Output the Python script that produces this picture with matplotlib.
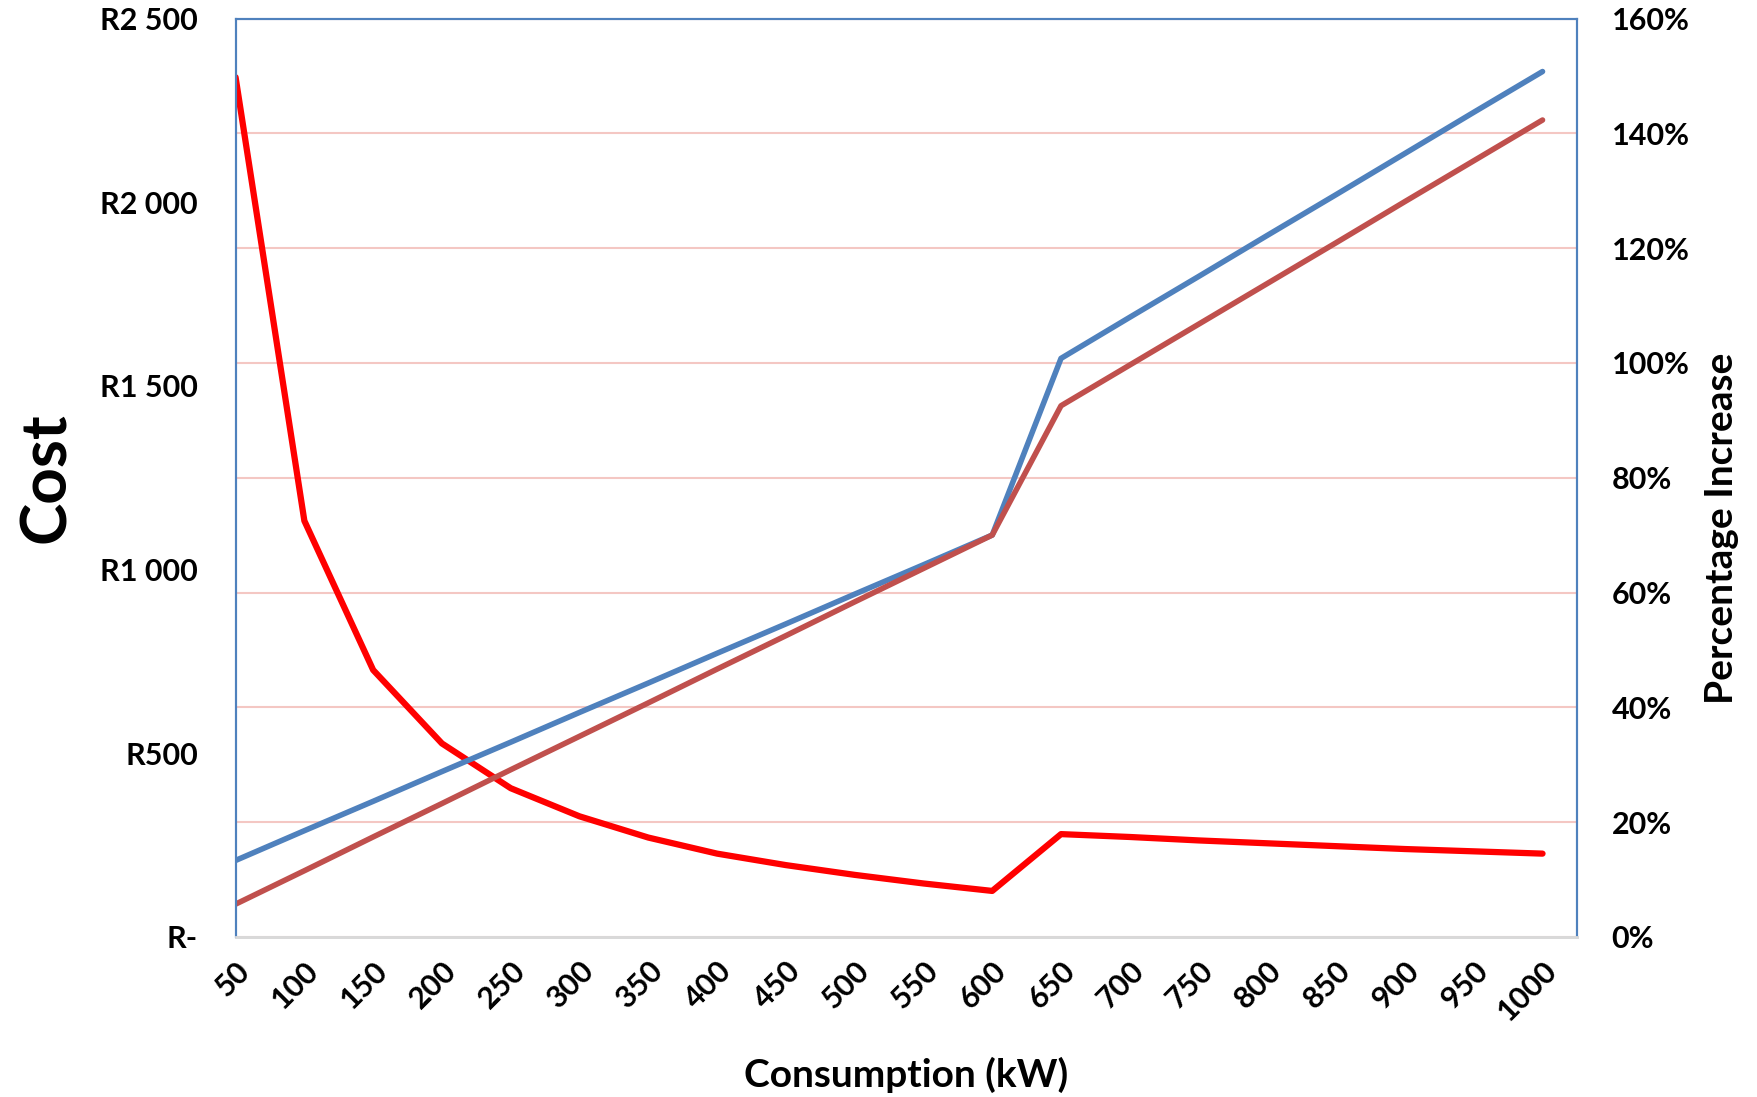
import matplotlib.pyplot as plt
import numpy as np

# consumption categories (kW)
consumption = [50, 100, 150, 200, 250, 300, 350, 400, 450, 500,
               550, 600, 650, 700, 750, 800, 850, 900, 950, 1000]

# cost series (Rand)
cost_blue = [208, 289, 369, 450, 530, 611, 691, 772, 852, 933,
             1013, 1094, 1575, 1687, 1798, 1910, 2021, 2133, 2245, 2356]
cost_red = [89, 180, 272, 363, 455, 546, 637, 729, 820, 912,
            1003, 1094, 1446, 1557, 1668, 1779, 1890, 2002, 2113, 2224]

# percentage increase (secondary axis)
pct_increase = [149.8, 72.5, 46.5, 33.7, 25.9, 21.0, 17.3, 14.5, 12.5, 10.8,
                9.3, 8.0, 17.9, 17.4, 16.8, 16.3, 15.8, 15.3, 14.9, 14.5]

left_ticks = [0, 500, 1000, 1500, 2000, 2500]
left_labels = ['R-', 'R500', 'R1 000', 'R1 500', 'R2 000', 'R2 500']
right_ticks = [0, 20, 40, 60, 80, 100, 120, 140, 160]

plt.rcParams['font.family'] = ['Lato', 'DejaVu Sans']
plt.rcParams['font.weight'] = 'bold'

fig = plt.figure(figsize=(17.58, 10.97), dpi=100)
ax = fig.add_axes([0.134, 0.146, 0.763, 0.837])
ax2 = ax.twinx()

x = np.arange(len(consumption))

# grid on the secondary axes, drawn behind everything
ax2.set_xticks(x)
ax2.grid(axis='x', color='#D9D9D9', linewidth=1.5)
ax2.grid(axis='y', color='#F4C7C3', linewidth=1.5)
ax2.plot(x, pct_increase, color='#FF0000', linewidth=4.5, solid_joinstyle='round',
         solid_capstyle='round')
ax2.set_ylim(0, 160)
ax2.set_yticks(right_ticks)
ax2.set_yticklabels([f'{t}%' for t in right_ticks], fontsize=22, fontweight='bold')
ax2.set_ylabel('Percentage Increase', fontsize=28, fontweight='bold')
ax2.yaxis.set_label_coords(1.095, 0.445)

ax.set_zorder(ax2.get_zorder() + 1)
ax.patch.set_visible(False)
ax.plot(x, cost_blue, color='#4F81BD', linewidth=4, solid_joinstyle='round',
        solid_capstyle='round')
ax.plot(x, cost_red, color='#C0504D', linewidth=4, solid_joinstyle='round',
        solid_capstyle='round')
ax.set_ylim(0, 2500)
ax.set_xlim(0, len(consumption) - 0.5)
ax.set_yticks(left_ticks)
ax.set_yticklabels(left_labels, fontsize=22, fontweight='bold')
ax.set_xticks(x)
ax.set_xticklabels([str(c) for c in consumption], fontsize=22, fontweight='bold',
                   rotation=45, ha='right', rotation_mode='anchor')
ax.set_xlabel('Consumption (kW)', fontsize=28, fontweight='bold', labelpad=22)
ax.set_ylabel('Cost', fontsize=46, fontweight='bold', labelpad=18)

for a in (ax, ax2):
    for s in ['left', 'top', 'right']:
        a.spines[s].set_color('#4F81BD')
        a.spines[s].set_linewidth(1.5)
    a.spines['bottom'].set_color('#D9D9D9')
    a.spines['bottom'].set_linewidth(2)

ax.tick_params(axis='y', length=0, pad=27)
ax.tick_params(axis='x', length=0, pad=14)
ax2.tick_params(axis='y', length=0, pad=25)
ax2.tick_params(axis='x', length=0)

plt.savefig('out.png', dpi=100)
